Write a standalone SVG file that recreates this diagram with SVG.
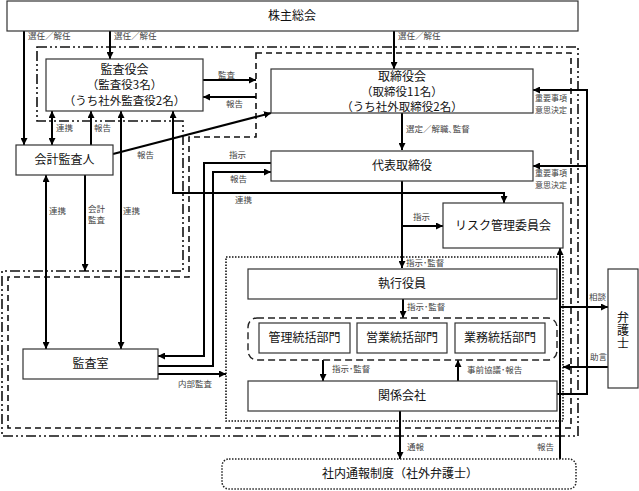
<svg xmlns="http://www.w3.org/2000/svg" width="639" height="491" viewBox="0 0 639 491">
<style>
.bx{fill:#fff;stroke:#333;stroke-width:1.2}
.t{font-family:"Noto Sans CJK JP","Liberation Sans",sans-serif;font-size:12px;fill:#111;text-anchor:middle}
.tp{font-family:"Noto Sans CJK JP","Liberation Sans",sans-serif;font-size:11.5px;fill:#111;text-anchor:middle}
.s{font-family:"Noto Sans CJK JP","Liberation Sans",sans-serif;font-size:8.5px;fill:#444}
.s2{font-family:"Noto Sans CJK JP","Liberation Sans",sans-serif;font-size:8px;fill:#444}
.c path{fill:none;stroke:#000;stroke-width:2}
.r{fill:none;stroke:#111;stroke-width:1.6}
</style>
<defs>
<marker id="a" viewBox="0 0 8 8" refX="8" refY="4" markerWidth="7" markerHeight="7" markerUnits="userSpaceOnUse" orient="auto-start-reverse"><path d="M0,0 L8,4 L0,8 z" fill="#000"/></marker>
</defs>
<rect width="639" height="491" fill="#fff"/>
<!-- regions -->
<g id="regions">
<path class="r" d="M37,47 H578 V436 H2 V271 H183 V121 H37 Z" stroke-dasharray="10,3,2,3,2,3"/>
<path class="r" d="M256,53 H571 V428 H8 V277 H189 V137 H256 Z" stroke-dasharray="6,4"/>
<rect class="r" x="226" y="257" width="337" height="164" stroke-dasharray="1.5,1.5"/>
</g>
<!-- connectors -->
<g id="connectors" class="c">
<path d="M24,31 V145" marker-end="url(#a)"/>
<path d="M110,31 V59" marker-end="url(#a)"/>
<path d="M394,31 V69" marker-end="url(#a)"/>
<path d="M52,111 V145" marker-start="url(#a)" marker-end="url(#a)"/>
<path d="M91,145 V111" marker-end="url(#a)"/>
<path d="M46,175 V349" marker-start="url(#a)" marker-end="url(#a)"/>
<path d="M85,175 V271" marker-end="url(#a)"/>
<path d="M121,111 V349" marker-start="url(#a)" marker-end="url(#a)"/>
<path d="M203,80 H256" marker-end="url(#a)"/>
<path d="M256,97 H203" marker-end="url(#a)"/>
<path d="M113,154 L271,113" marker-end="url(#a)"/>
<path d="M173,111 V193 H504 V203" marker-start="url(#a)" marker-end="url(#a)"/>
<path d="M271,163 H204 V356 H158" marker-end="url(#a)"/>
<path d="M158,366 H213 V172 H271" marker-end="url(#a)"/>
<path d="M158,374 H226" marker-end="url(#a)"/>
<path d="M402,113 V150" marker-end="url(#a)"/>
<path d="M402,181 V268" marker-end="url(#a)"/>
<path d="M402,226 H443" marker-end="url(#a)"/>
<path d="M403,299 V318" marker-end="url(#a)"/>
<path d="M323,360 V381" marker-end="url(#a)"/>
<path d="M458,381 V360" marker-end="url(#a)"/>
<path d="M400,411 V459" marker-end="url(#a)"/>
<path d="M560,459 V248" marker-end="url(#a)"/>
<path d="M560,307 H608" marker-end="url(#a)"/>
<path d="M608,367 H563" marker-end="url(#a)"/>
<path d="M557,394 H587 V90 H533" marker-end="url(#a)"/>
<path d="M587,166 H533" marker-end="url(#a)"/>
</g>
<!-- connector labels -->
<g id="labels">
<text class="s" x="28" y="39">選任／解任</text>
<text class="s" x="114" y="39">選任／解任</text>
<text class="s" x="398" y="39">選任／解任</text>
<text class="s" x="218" y="78">監査</text>
<text class="s" x="226" y="107">報告</text>
<text class="s" x="56" y="131">連携</text>
<text class="s" x="94" y="131">報告</text>
<text class="s" x="137" y="158">報告</text>
<text class="s" x="229" y="158">指示</text>
<text class="s" x="230" y="182">報告</text>
<text class="s" x="235" y="203">連携</text>
<text class="s" x="49" y="214">連携</text>
<text class="s" x="88" y="212">会計</text>
<text class="s" x="88" y="223">監査</text>
<text class="s" x="123" y="214">連携</text>
<text class="s" x="178" y="387">内部監査</text>
<text class="s" x="406" y="132">選定／解職､監督</text>
<text class="s2" x="535" y="101">重要事項</text>
<text class="s2" x="535" y="113">意思決定</text>
<text class="s2" x="535" y="176">重要事項</text>
<text class="s2" x="535" y="188">意思決定</text>
<text class="s" x="413" y="220">指示</text>
<text class="s" x="406" y="266">指示･監督</text>
<text class="s" x="407" y="310">指示･監督</text>
<text class="s" x="332" y="372">指示･監督</text>
<text class="s" x="467" y="373">事前協議･報告</text>
<text class="s" x="407" y="450">通報</text>
<text class="s" x="537" y="450">報告</text>
<text class="s" x="589" y="300">相談</text>
<text class="s" x="590" y="360">助言</text>
</g>
<!-- nodes -->
<g id="n-kabunushi"><rect class="bx" x="7" y="1" width="571" height="30"/><text class="t" x="292" y="20">株主総会</text></g>
<g id="n-kansayakukai"><rect class="bx" x="46" y="59" width="157" height="52"/><text class="t" x="124.5" y="74">監査役会</text><text class="tp" x="124.5" y="89">（監査役3名）</text><text class="tp" x="124.5" y="105">（うち社外監査役2名）</text></g>
<g id="n-torishimariyakukai"><rect class="bx" x="271" y="69" width="262" height="44"/><text class="t" x="402" y="81">取締役会</text><text class="tp" x="402" y="96">（取締役11名）</text><text class="tp" x="402" y="111">（うち社外取締役2名）</text></g>
<g id="n-kaikei"><rect class="bx" x="16" y="145" width="97" height="30"/><text class="t" x="64.5" y="164">会計監査人</text></g>
<g id="n-daihyo"><rect class="bx" x="271" y="151" width="262" height="30"/><text class="t" x="402" y="170">代表取締役</text></g>
<g id="n-risk"><rect class="bx" x="443" y="203" width="120" height="45"/><text class="t" x="503" y="230">リスク管理委員会</text></g>
<g id="n-shikko"><rect class="bx" x="248" y="269" width="309" height="30"/><text class="t" x="402" y="288">執行役員</text></g>
<g id="n-tokatsu"><rect x="248" y="318" width="309" height="42" rx="9" fill="none" stroke="#222" stroke-width="1.4" stroke-dasharray="7,4"/></g>
<g id="n-kanri"><rect class="bx" x="259" y="323" width="91" height="30"/><text class="t" x="304.5" y="342">管理統括部門</text></g>
<g id="n-eigyo"><rect class="bx" x="357" y="323" width="90" height="30"/><text class="t" x="402" y="342">営業統括部門</text></g>
<g id="n-gyomu"><rect class="bx" x="455" y="323" width="90" height="30"/><text class="t" x="500" y="342">業務統括部門</text></g>
<g id="n-kankei"><rect class="bx" x="248" y="381" width="309" height="30"/><text class="t" x="402" y="400">関係会社</text></g>
<g id="n-kansashitsu"><rect class="bx" x="23" y="349" width="135" height="30"/><text class="t" x="90.5" y="368">監査室</text></g>
<g id="n-bengoshi"><rect class="bx" x="608" y="269" width="30" height="119"/><text class="t" x="623" y="331" writing-mode="vertical-rl" letter-spacing="1">弁護士</text></g>
<g id="n-tsuho"><rect x="222" y="459" width="354" height="30" rx="7" fill="#fff" stroke="#222" stroke-width="1.5" stroke-dasharray="1.5,1.5"/><text class="t" x="400" y="478">社内通報制度（社外弁護士）</text></g>
</svg>
